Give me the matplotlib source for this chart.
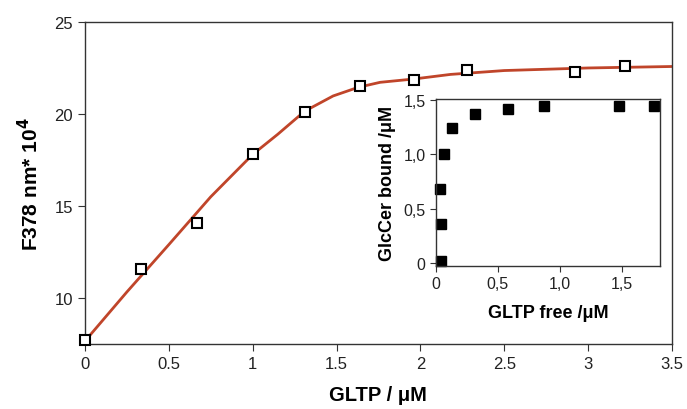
import matplotlib
matplotlib.use("Agg")
import matplotlib.pyplot as plt
import numpy as np

plt.rcParams['font.family'] = ['Liberation Sans', 'DejaVu Sans']

# main titration data (open squares)
gltp = [0.0, 0.334, 0.667, 1.0, 1.31, 1.64, 1.96, 2.28, 2.92, 3.22]
f378 = [7.7, 11.6, 14.1, 17.8, 20.1, 21.5, 21.85, 22.4, 22.3, 22.6]

# fitted curve
fit_x = [0.0, 0.25, 0.5, 0.75, 1.0, 1.15, 1.31, 1.48, 1.63, 1.76, 1.96, 2.18, 2.5, 3.0, 3.5]
fit_y = [7.66, 10.33, 12.9, 15.5, 17.8, 18.9, 20.15, 20.98, 21.45, 21.72, 21.9, 22.15, 22.36, 22.5, 22.58]

# inset data (filled squares)
free = [0.038, 0.038, 0.032, 0.062, 0.127, 0.315, 0.58, 0.876, 1.48, 1.76]
bound = [0.012, 0.36, 0.68, 1.0, 1.24, 1.37, 1.42, 1.45, 1.45, 1.45]

fig = plt.figure(figsize=(6.87, 4.10), dpi=100)
ax = fig.add_axes([0.1237, 0.1585, 0.8543, 0.7855])
ax.plot(fit_x, fit_y, color='#c0452a', lw=2, zorder=2)
ax.plot(gltp, f378, ls='none', marker='s', ms=7.5, mfc='white', mec='black', mew=1.5, zorder=3, clip_on=False)
ax.set_xlim(0, 3.5)
ax.set_ylim(7.5, 25)
ax.set_xticks([0, 0.5, 1, 1.5, 2, 2.5, 3, 3.5])
ax.set_xticklabels(['0', '0.5', '1', '1.5', '2', '2.5', '3', '3.5'])
ax.set_yticks([10, 15, 20, 25])
ax.tick_params(direction='out', labelsize=12, length=5, color='#333333', labelcolor='#222222')
for s in ax.spines.values():
    s.set_color('#333333')
    s.set_linewidth(1.0)
ax.set_xlabel('GLTP / \u03bcM', fontsize=14.5, fontweight='bold', labelpad=10)
ax.set_ylabel('F378 nm* 10$^{\\mathbf{4}}$', fontsize=15, fontweight='bold', labelpad=9)

ins = fig.add_axes([0.6346, 0.3488, 0.3261, 0.4072])
ins.plot(free, bound, ls='none', marker='s', ms=6.5, color='black', clip_on=False)
ins.set_xlim(0, 1.81)
ins.set_ylim(-0.03, 1.51)
ins.set_xticks([0, 0.5, 1.0, 1.5])
ins.set_xticklabels(['0', '0,5', '1,0', '1,5'])
ins.set_yticks([0, 0.5, 1.0, 1.5])
ins.set_yticklabels(['0', '0,5', '1,0', '1,5'])
ins.tick_params(direction='out', labelsize=11.5, length=4, color='#333333', labelcolor='#222222')
for s in ins.spines.values():
    s.set_color('#333333')
    s.set_linewidth(1.0)
ins.set_xlabel('GLTP free /\u03bcM', fontsize=13, fontweight='bold', labelpad=9)
ins.set_ylabel('GlcCer bound /\u03bcM', fontsize=13, fontweight='bold', labelpad=5)

plt.savefig('out.png', dpi=100)
